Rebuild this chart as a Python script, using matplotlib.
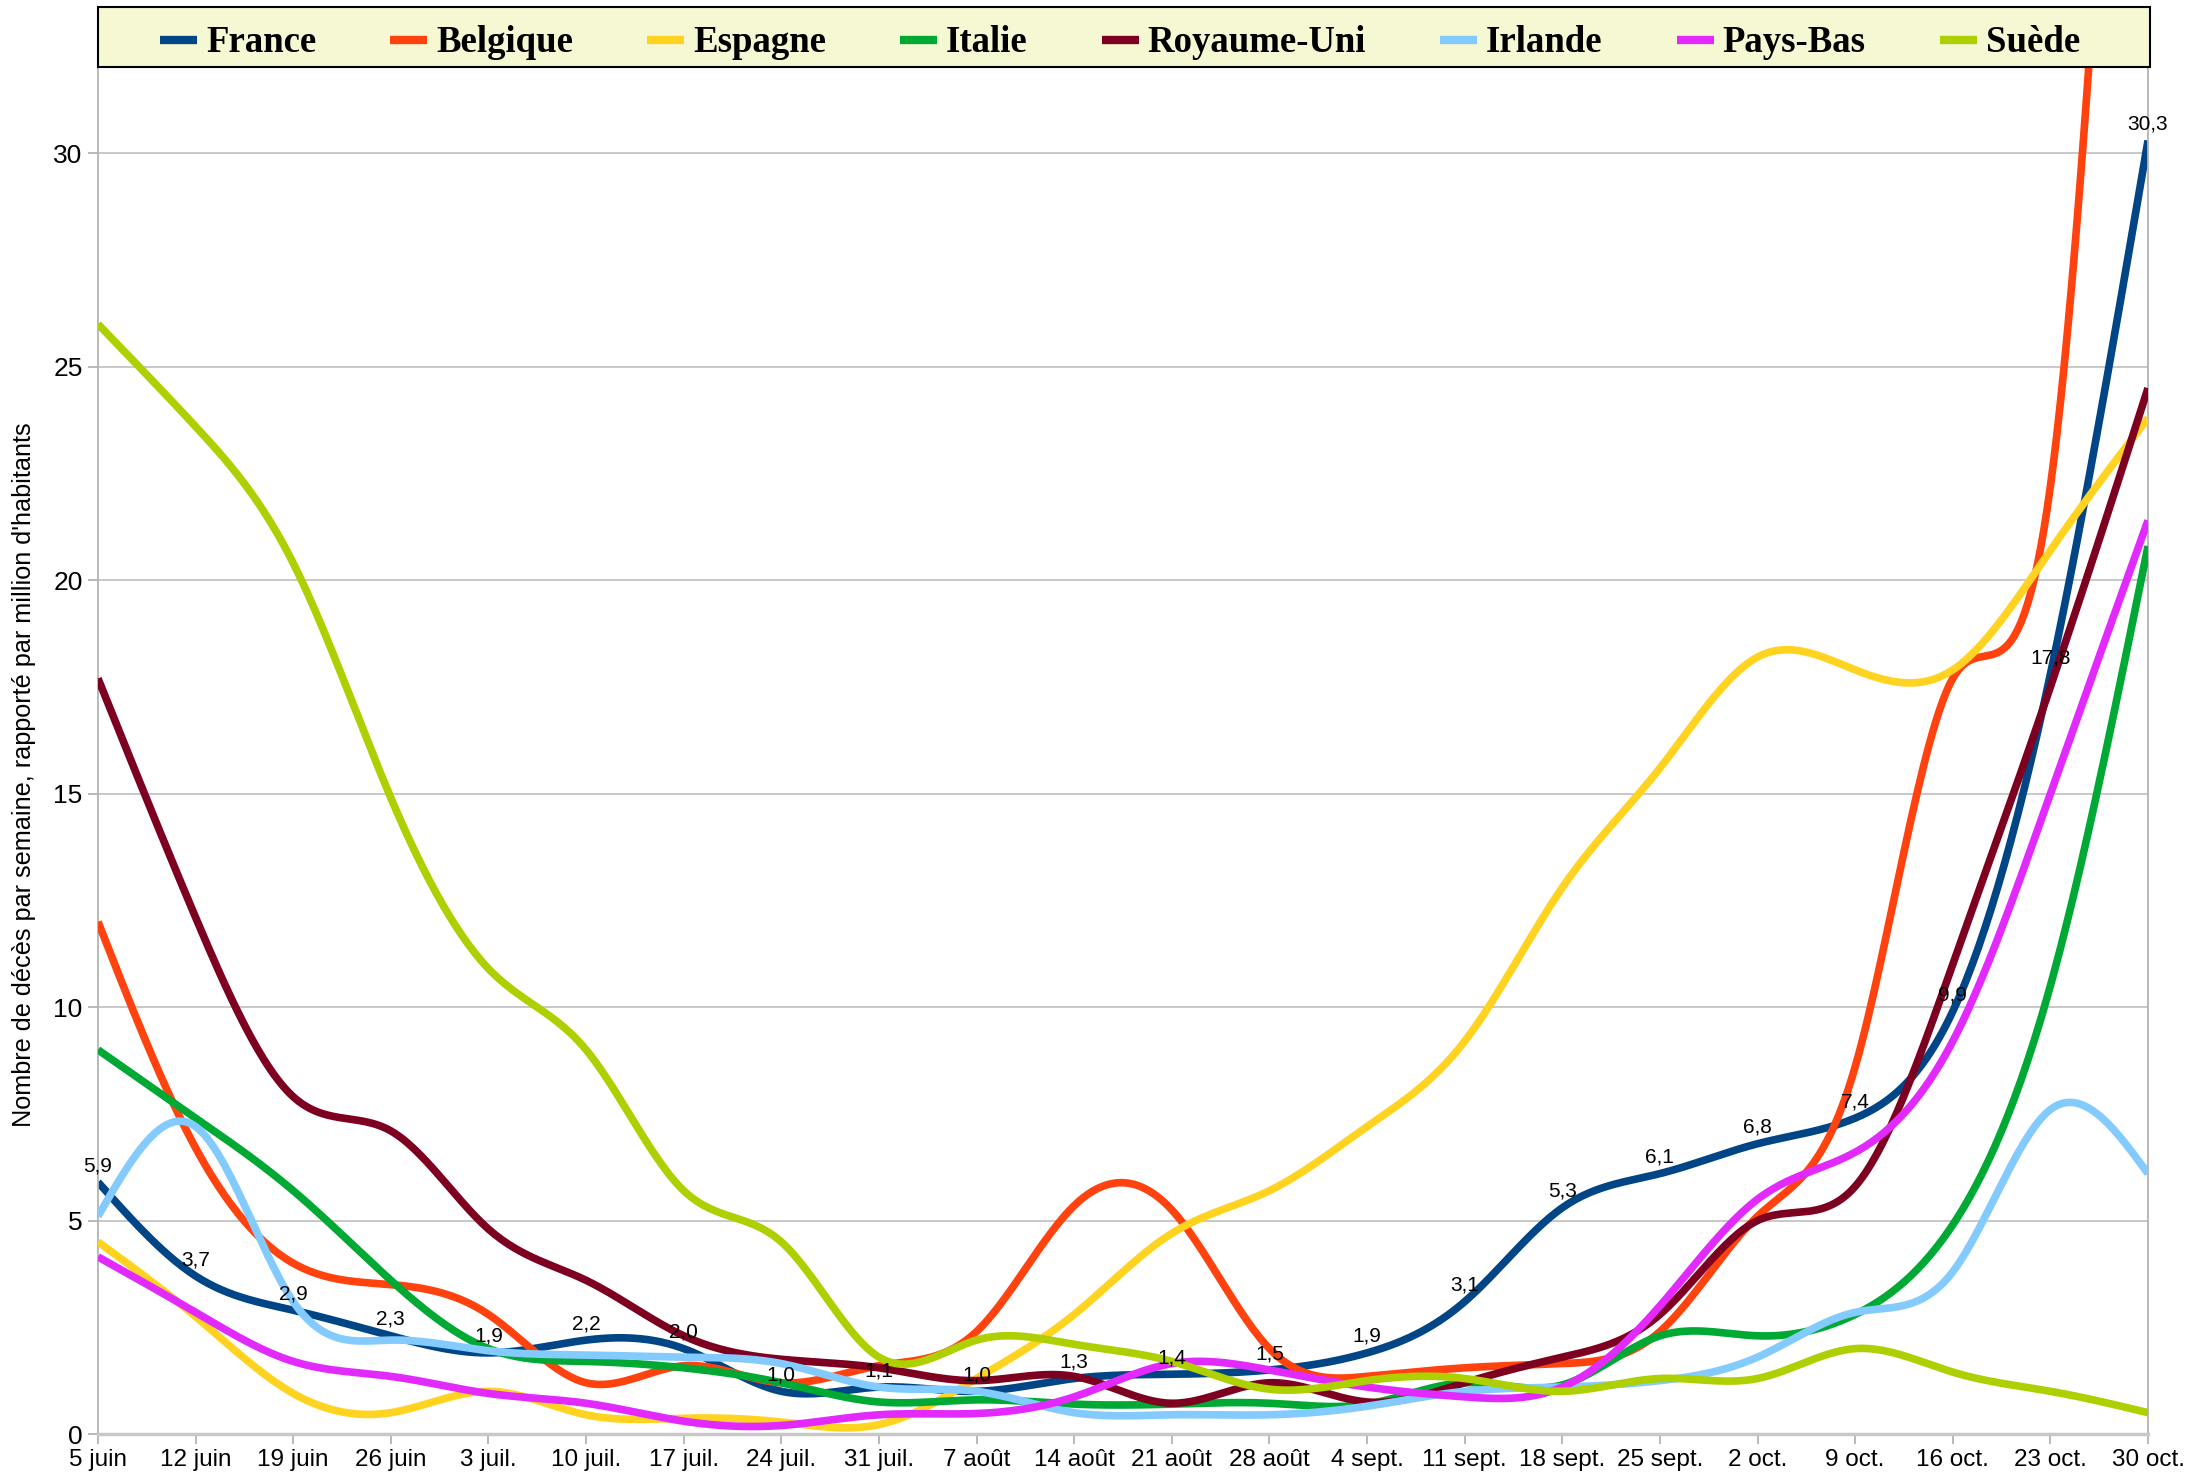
import numpy as np
import matplotlib
matplotlib.use("Agg")
import matplotlib.pyplot as plt
from matplotlib.patches import Rectangle
from matplotlib.lines import Line2D

# semaines (axe x)
semaines = ["5 juin", "12 juin", "19 juin", "26 juin", "3 juil.", "10 juil.",
            "17 juil.", "24 juil.", "31 juil.", "7 août", "14 août", "21 août",
            "28 août", "4 sept.", "11 sept.", "18 sept.", "25 sept.", "2 oct.",
            "9 oct.", "16 oct.", "23 oct.", "30 oct."]

# décès par semaine par million d'habitants
france = [5.9, 3.7, 2.9, 2.3, 1.9, 2.2, 2.0, 1.0, 1.1, 1.0, 1.3, 1.4, 1.5, 1.9,
          3.1, 5.3, 6.1, 6.8, 7.4, 9.9, 17.8, 30.3]
belgique = [12.0, 6.7, 4.0, 3.5, 2.8, 1.2, 1.6, 1.2, 1.6, 2.4, 5.35, 5.25, 2.0, 1.35,
            1.55, 1.65, 2.4, 5.1, 8.6, 17.7, 22.2, 55.0]
espagne = [4.5, 2.75, 0.95, 0.5, 1.0, 0.45, 0.37, 0.28, 0.22, 1.3, 2.8, 4.7, 5.7, 7.2,
           9.2, 12.8, 15.6, 18.2, 17.9, 17.9, 20.7, 23.8]
italie = [9.0, 7.4, 5.7, 3.6, 2.0, 1.7, 1.55, 1.2, 0.75, 0.8, 0.7, 0.7, 0.72, 0.7,
          1.2, 1.15, 2.3, 2.3, 2.8, 4.9, 10.5, 20.8]
royaume_uni = [17.7, 12.1, 7.9, 7.1, 4.8, 3.6, 2.3, 1.75, 1.55, 1.25, 1.35, 0.72, 1.2,
               0.75, 1.2, 1.8, 2.8, 5.0, 5.8, 11.0, 17.5, 24.5]
irlande = [5.1, 7.2, 3.1, 2.2, 1.95, 1.85, 1.8, 1.65, 1.1, 1.0, 0.5, 0.45, 0.45, 0.65,
           1.0, 1.1, 1.25, 1.8, 2.85, 3.8, 7.6, 6.1]
pays_bas = [4.15, 2.85, 1.7, 1.35, 0.95, 0.72, 0.3, 0.2, 0.45, 0.48, 0.87, 1.65, 1.5,
            1.1, 0.87, 1.1, 3.0, 5.5, 6.6, 9.2, 15.0, 21.4]
suede = [26.0, 23.6, 20.4, 14.9, 10.9, 9.0, 5.7, 4.5, 1.8, 2.2, 2.1, 1.7, 1.05, 1.25,
         1.3, 1.0, 1.3, 1.3, 2.0, 1.45, 1.0, 0.5]

pays = ["France", "Belgique", "Espagne", "Italie", "Royaume-Uni", "Irlande",
        "Pays-Bas", "Suède"]
series = [france, belgique, espagne, italie, royaume_uni, irlande, pays_bas, suede]
couleurs = ["#004586", "#ff420e", "#ffd320", "#00a933", "#7e0021", "#83caff",
            "#e22aff", "#aecf00"]


def lisse(y, n=30):
    # spline cubique naturelle (comme le lissage du tableur)
    y = np.asarray(y, float)
    k = len(y)
    A = np.zeros((k, k))
    r = np.zeros(k)
    A[0, 0] = A[-1, -1] = 1
    for i in range(1, k - 1):
        A[i, i - 1], A[i, i], A[i, i + 1] = 1, 4, 1
        r[i] = 6 * (y[i - 1] - 2 * y[i] + y[i + 1])
    M = np.linalg.solve(A, r)
    xs, ys = [], []
    for i in range(k - 1):
        t = np.linspace(0, 1, n, endpoint=(i == k - 2))
        yy = ((1 - t) * y[i] + t * y[i + 1]
              + ((1 - t) ** 3 - (1 - t)) * M[i] / 6 + (t ** 3 - t) * M[i + 1] / 6)
        xs.append(i + t)
        ys.append(yy)
    return np.concatenate(xs), np.concatenate(ys)


W, H = 2202, 1482
fig = plt.figure(figsize=(W / 100, H / 100), dpi=100)
ax = fig.add_axes([98 / W, 1 - 1434 / H, 2050 / W, 1366 / H])

x = np.arange(len(semaines))
for i, (nom, y, c) in enumerate(zip(pays, series, couleurs)):
    xs, ys = lisse(y)
    ax.plot(xs, ys, color=c, lw=5.5, solid_capstyle="butt", zorder=2 + i)

for i, v in enumerate(france):
    ax.annotate(f"{v:.1f}".replace(".", ","), (x[i], v), xytext=(0, 5),
                textcoords="offset points", ha="center", va="bottom",
                fontsize=15, family="Liberation Sans", zorder=20)

ax.set_xlim(0, len(semaines) - 1)
ax.set_ylim(0, 32)
ax.set_xticks(x)
ax.set_xticklabels(semaines, family="Liberation Sans", fontsize=17.5)
ax.set_yticks(range(0, 31, 5))
ax.set_yticklabels([str(v) for v in range(0, 31, 5)], family="Liberation Sans",
                   fontsize=19)
ax.tick_params(axis="both", length=7, color="#b3b3b3", width=1.3, pad=4)
ax.yaxis.grid(True, color="#c8c8c8", lw=1.4)
ax.set_axisbelow(True)
for s in ["left", "right"]:
    ax.spines[s].set_color("#b3b3b3")
    ax.spines[s].set_linewidth(1.3)
ax.spines["bottom"].set_color("#c8c8c8")
ax.spines["bottom"].set_linewidth(2.5)
ax.spines["top"].set_visible(False)

fig.text(24 / W, 1 - 775 / H,
         "Nombre de décès par semaine, rapporté par million d'habitants",
         rotation=90, ha="center", va="center", fontsize=18.2,
         family="Liberation Sans")

# légende en haut
fig.patches.append(Rectangle((98 / W, 1 - 67 / H), 2052 / W, 60 / H,
                             transform=fig.transFigure, facecolor="#f5f8d2",
                             edgecolor="black", lw=1.5, zorder=5))
poignees = [Line2D([], [], color=c, lw=6, solid_capstyle="butt") for c in couleurs]
fig.legend(poignees, pays, ncol=8, mode="expand", loc="center",
           bbox_to_anchor=(160 / W, 1 - 73 / H, 1920 / W, 60 / H),
           frameon=False, handlelength=1.0, handletextpad=0.25,
           borderpad=0, borderaxespad=0,
           prop={"family": "Liberation Serif", "weight": "bold", "size": 26.5})

fig.savefig("out.png", dpi=100)
